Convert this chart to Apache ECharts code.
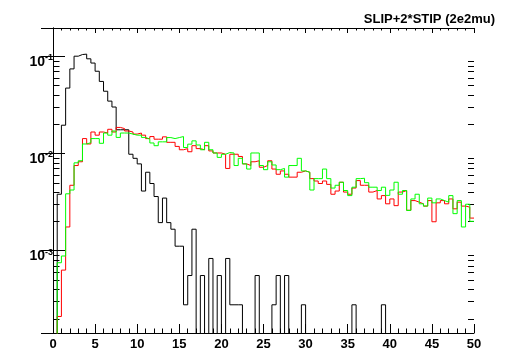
<!DOCTYPE html>
<html>
<head>
<meta charset="utf-8">
<title>SLIP+2*STIP (2e2mu)</title>
<script src="https://cdn.jsdelivr.net/npm/echarts@6.0.0/dist/echarts.min.js"></script>
<style>
  html, body { margin: 0; padding: 0; background: #fff; }
  #chart { width: 509px; height: 351px; }
</style>
</head>
<body>
<div id="chart"></div>
<script>
// histogram: 100 bins of width 0.5 from 0 to 50
const binWidth = 0.5;

// black histogram
const blackHist = [
  0, 0.0038, 0.0195, 0.047, 0.074, 0.100, 0.104, 0.105, 0.094, 0.085,
  0.070, 0.055, 0.0436, 0.0345, 0.030, 0.0175, 0.0175, 0.0175, 0.0098, 0.0089,
  0.0078, 0.0041, 0.0064, 0.0049, 0.0036, 0.00194, 0.00347, 0.00194, 0.00166, 0.00111,
  0.00111, 0.000277, 0.000554, 0.00166, 0, 0.000554, 0, 0.00083, 0, 0.000554,
  0, 0.00083, 0.000277, 0.000277, 0.000277, 0, 0, 0, 0.000554, 0,
  0, 0, 0.000277, 0.000554, 0, 0.000554, 0, 0, 0, 0.000277,
  0, 0, 0, 0, 0, 0, 0, 0, 0, 0,
  0, 0.000277, 0, 0, 0, 0, 0, 0, 0.000277, 0,
  0, 0, 0, 0, 0, 0, 0, 0, 0, 0,
  0, 0, 0, 0, 0, 0, 0, 0, 0, 0
];

// red histogram
const redHist = [
  0, 0.00021, 0.00063, 0.00175, 0.0047, 0.0075, 0.0082, 0.0142, 0.0125, 0.0166,
  0.0154, 0.0166, 0.0162, 0.0177, 0.0166, 0.0185, 0.0180, 0.0170, 0.0166, 0.0158,
  0.0162, 0.0154, 0.0142, 0.0149, 0.0140, 0.0140, 0.0148, 0.0130, 0.0130, 0.0118,
  0.0109, 0.0112, 0.0104, 0.0120, 0.0112, 0.0109, 0.0120, 0.0106, 0.0101, 0.0101,
  0.0098, 0.0070, 0.0098, 0.0098, 0.0093, 0.0078, 0.0075, 0.0082, 0.0084, 0.0072,
  0.0075, 0.0084, 0.0069, 0.0061, 0.0066, 0.0061, 0.0057, 0.0057, 0.0064, 0.0066,
  0.0064, 0.0055, 0.0052, 0.0049, 0.0052, 0.0048, 0.0038, 0.0041, 0.00505, 0.0040,
  0.0038, 0.0044, 0.00525, 0.0047, 0.0047, 0.0040, 0.00415, 0.0034, 0.00368, 0.00303,
  0.0034, 0.0029, 0.0040, 0.00415, 0.0026, 0.00327, 0.00315, 0.00303, 0.00287, 0.00327,
  0.00198, 0.0031, 0.00327, 0.00303, 0.0034, 0.00269, 0.00315, 0.00287, 0.0028, 0.00216
];

// green histogram
const greenHist = [
  0, 0.00075, 0.00088, 0.00384, 0.0042, 0.0080, 0.0084, 0.0125, 0.0129, 0.0142,
  0.0142, 0.0127, 0.0162, 0.0154, 0.0170, 0.0146, 0.0162, 0.0162, 0.0158, 0.0154,
  0.0154, 0.0146, 0.0140, 0.0128, 0.0120, 0.01315, 0.01315, 0.01455, 0.0142, 0.01455,
  0.0149, 0.0115, 0.01245, 0.01346, 0.0122, 0.0109, 0.0130, 0.0109, 0.0101, 0.0091,
  0.0098, 0.0102, 0.0101, 0.0075, 0.0089, 0.0078, 0.0069, 0.0101, 0.0101, 0.0075,
  0.0068, 0.0082, 0.0076, 0.0068, 0.0070, 0.0057, 0.0075, 0.0075, 0.0089, 0.0066,
  0.0064, 0.0042, 0.0055, 0.0055, 0.0069, 0.0055, 0.0044, 0.0047, 0.00505, 0.00415,
  0.00368, 0.00449, 0.0055, 0.00555, 0.0050, 0.00449, 0.00449, 0.00415, 0.00449, 0.0037,
  0.0042, 0.00505, 0.0038, 0.00415, 0.00259, 0.0034, 0.0038, 0.00303, 0.00287, 0.00347,
  0.0031, 0.0034, 0.00327, 0.00315, 0.00368, 0.0024, 0.00327, 0.00175, 0.0030, 0.0020
];

// axis ranges
const xMin = 0;
const xMax = 50;
const yMin = 1.42e-4;
const yMax = 0.195;

// minor log ticks (2..9 x 10^n)
const yMinorTicks = [
  2e-4, 3e-4, 4e-4, 5e-4, 6e-4, 7e-4, 8e-4, 9e-4,
  2e-3, 3e-3, 4e-3, 5e-3, 6e-3, 7e-3, 8e-3, 9e-3,
  2e-2, 3e-2, 4e-2, 5e-2, 6e-2, 7e-2, 8e-2, 9e-2
];

const title = 'SLIP+2*STIP (2e2mu)';
const fontFamily = '"Liberation Sans", Arial, Helvetica, sans-serif';

// empty bins are pushed below the axis so the step drops to the frame
const toSteps = (hist) => {
  const pts = hist.map((v, i) => [i * binWidth, v > 0 ? v : 1e-7]);
  const last = hist[hist.length - 1];
  pts.push([hist.length * binWidth, last > 0 ? last : 1e-7]);
  return pts;
};

const histSeries = (name, hist, color) => ({
  name: name,
  type: 'line',
  step: 'end',
  symbol: 'none',
  clip: true,
  lineStyle: { color: color, width: 1 },
  data: toSteps(hist)
});

// y label: 10^n
const logLabel = (v) => {
  const e = Math.log10(v);
  if (Math.abs(e - Math.round(e)) > 1e-6) return '';
  return '{b|10}{s|' + Math.round(e) + '}';
};

const chart = echarts.init(document.getElementById('chart'), null, { renderer: 'canvas' });

const option = {
  animation: false,
  backgroundColor: '#fff',
  title: {
    text: title,
    right: 9,
    top: 8,
    textStyle: { fontFamily: fontFamily, fontSize: 13, fontWeight: 'bold', color: '#000' }
  },
  grid: { left: 53, right: 35, top: 28, bottom: 16, containLabel: false },
  xAxis: [
    {
      type: 'value',
      min: xMin,
      max: xMax,
      interval: 5,
      position: 'bottom',
      axisLine: { lineStyle: { color: '#000', width: 1 } },
      axisTick: { inside: true, length: 9, lineStyle: { color: '#000' } },
      minorTick: { show: true, splitNumber: 5, length: 4.5, lineStyle: { color: '#000' } },
      axisLabel: {
        margin: 5,
        color: '#000',
        fontFamily: fontFamily,
        fontSize: 13,
        fontWeight: 'bold'
      },
      splitLine: { show: false }
    },
    {
      type: 'value',
      min: xMin,
      max: xMax,
      interval: 5,
      position: 'top',
      axisLine: { lineStyle: { color: '#000', width: 1 } },
      axisTick: { inside: true, length: 5, lineStyle: { color: '#000' } },
      minorTick: { show: true, splitNumber: 5, length: 2.5, lineStyle: { color: '#000' } },
      axisLabel: { show: false },
      splitLine: { show: false }
    }
  ],
  yAxis: [
    {
      type: 'log',
      logBase: 10,
      min: yMin,
      max: yMax,
      position: 'left',
      axisLine: { show: true, lineStyle: { color: '#000', width: 1 } },
      axisTick: { show: true, inside: true, length: 12, lineStyle: { color: '#000' } },
      axisLabel: {
        margin: 0,
        padding: [10, 0, 0, 0],
        showMinLabel: false,
        showMaxLabel: false,
        formatter: logLabel,
        rich: {
          b: { fontFamily: fontFamily, fontSize: 14, fontWeight: 'bold', color: '#000', lineHeight: 16, verticalAlign: 'bottom' },
          s: { fontFamily: fontFamily, fontSize: 9, fontWeight: 'bold', color: '#000', lineHeight: 10, verticalAlign: 'top' }
        }
      },
      splitLine: { show: false }
    },
    {
      type: 'log',
      logBase: 10,
      min: yMin,
      max: yMax,
      position: 'right',
      axisLine: { show: true, lineStyle: { color: '#000', width: 1 } },
      axisTick: { show: true, inside: true, length: 12, lineStyle: { color: '#000' } },
      axisLabel: { show: false },
      splitLine: { show: false }
    }
  ],
  series: [
    histSeries('black', blackHist, '#000000'),
    histSeries('red', redHist, '#ff0000'),
    histSeries('green', greenHist, '#00ff00'),
    {
      // minor ticks of the log axis, on both sides of the frame
      type: 'custom',
      silent: true,
      data: yMinorTicks.map(v => [xMin, v]),
      renderItem: (params, api) => {
        const v = api.value(1);
        const pl = api.coord([xMin, v]);
        const pr = api.coord([xMax, v]);
        const y = Math.round(pl[1]) + 0.5;
        return {
          type: 'group',
          children: [
            { type: 'line', shape: { x1: pl[0], y1: y, x2: pl[0] + 6.5, y2: y }, style: { stroke: '#000', lineWidth: 1 } },
            { type: 'line', shape: { x1: pr[0] - 6, y1: y, x2: pr[0], y2: y }, style: { stroke: '#000', lineWidth: 1 } }
          ]
        };
      }
    }
  ]
};

chart.setOption(option);
</script>
</body>
</html>
